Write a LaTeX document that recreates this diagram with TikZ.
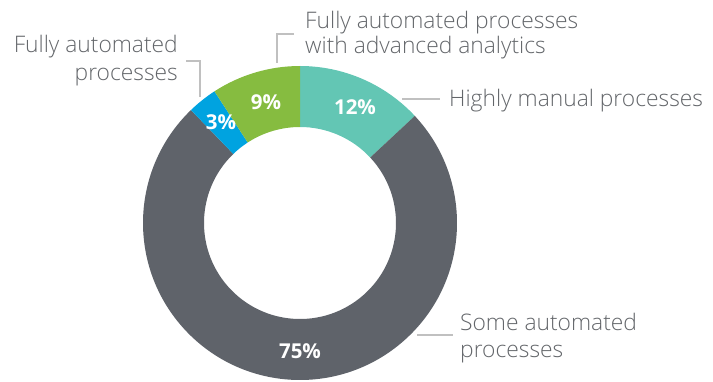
\documentclass[tikz,border=0pt]{standalone}
\usepackage{fontspec}
\setmainfont{Open Sans}
\newfontfamily\lightfont{Open Sans}[UprightFont={* Light}]
\definecolor{cteal}{HTML}{63C6B4}
\definecolor{cgreen}{HTML}{86BC40}
\definecolor{cblue}{HTML}{00A3E0}
\definecolor{cgray}{HTML}{5F636A}
\definecolor{ctext}{HTML}{63666A}
\definecolor{cline}{HTML}{C0C0C0}
\begin{document}
\begin{tikzpicture}[x=1pt,y=1pt,
  lbl/.style={font=\lightfont\fontsize{22.8}{27}\selectfont, text=ctext, inner sep=0pt},
  pct/.style={font=\bfseries\fontsize{20.5}{24}\selectfont, text=white, inner sep=0pt, anchor=center},
  leader/.style={draw=cline, line width=1.2pt}]
\useasboundingbox (0,0) rectangle (713,381);
\def\Ro{157}\def\Ri{96}
\begin{scope}[shift={(300,158)}]
  \fill[cteal] (90:\Ro) arc[start angle=90,end angle=43,radius=\Ro] -- (43:\Ri) arc[start angle=43,end angle=90,radius=\Ri] -- cycle;
  \fill[cgray] (43:\Ro) arc[start angle=43,end angle=-226,radius=\Ro] -- (-226:\Ri) arc[start angle=-226,end angle=43,radius=\Ri] -- cycle;
  \fill[cblue] (134:\Ro) arc[start angle=134,end angle=123,radius=\Ro] -- (123:\Ri) arc[start angle=123,end angle=134,radius=\Ri] -- cycle;
  \fill[cgreen] (123:\Ro) arc[start angle=123,end angle=90,radius=\Ro] -- (90:\Ri) arc[start angle=90,end angle=123,radius=\Ri] -- cycle;
\end{scope}
% percentages
\node[pct] (p12) at (355,274) {12\%};
\node[pct] (p9) at (266,279) {9\%};
\node[pct] (p3) at (221,259) {3\%};
\node[pct] (p75) at (300,30) {75\%};
% labels
\node[lbl, anchor=base east] (fa1) at (178,328) {Fully automated};
\node[lbl, anchor=base east] (fa2) at (178,300) {processes};
\node[lbl, anchor=base west] (aa1) at (305,352.7) {Fully automated processes};
\node[lbl, anchor=base west] (aa2) at (305,327) {with advanced analytics};
\node[lbl, anchor=base west] (hm) at (449,274) {Highly manual processes};
\node[lbl, anchor=base west] (sa1) at (460,51) {Some automated};
\node[lbl, anchor=base west] (sa2) at (460,23.5) {processes};
% leaders
\coordinate (la) at (186,320); \coordinate (lb) at (200,320); \coordinate (lc) at (200,284);
\draw[leader] (la) -- (lb) -- (lc);
\coordinate (ta) at (294,347); \coordinate (tb) at (277,347); \coordinate (tc) at (277,318);
\draw[leader] (ta) -- (tb) -- (tc);
\coordinate (ha) at (402,282); \coordinate (hb) at (440,282);
\draw[leader] (ha) -- (hb);
\coordinate (sa) at (417,46); \coordinate (sb) at (453,46);
\draw[leader] (sa) -- (sb);
\end{tikzpicture}
\end{document}
